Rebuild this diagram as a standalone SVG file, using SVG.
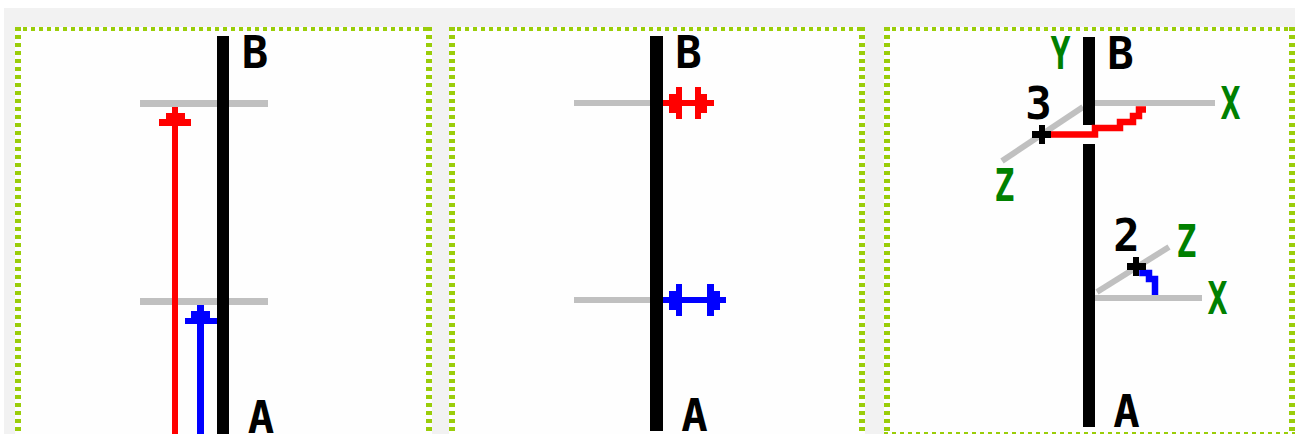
<svg xmlns="http://www.w3.org/2000/svg" width="1295" height="434" viewBox="0 0 1295 434">
<style>
.panel{fill:#fefefe}
.bh{stroke:#9acd0a;stroke-width:4;stroke-dasharray:4 4;fill:none}
.bv{stroke:#9acd0a;stroke-width:6;stroke-dasharray:4 4;fill:none}
.bar{fill:#000}
.axis{fill:#c0c0c0}
.red{fill:#ff0000}
.blue{fill:#0000ff}
.lbl{font-family:"DejaVu Sans Mono","Liberation Mono",monospace;font-weight:bold;font-size:44px;text-anchor:middle;fill:#000}
.g{fill:#008000}
.dline{fill:none;stroke:#c0c0c0;stroke-width:6}
</style>
<rect x="0" y="0" width="1295" height="434" fill="#ffffff"/>
<rect x="4" y="8" width="1291" height="426" fill="#f2f2f2"/>
<g id="panel1">
<rect class="panel" x="15" y="27" width="417" height="410"/>
<line class="bh" x1="15" y1="29" x2="432" y2="29"/>
<line class="bv" x1="18" y1="27" x2="18" y2="434"/>
<line class="bv" x1="429" y1="27" x2="429" y2="434"/>
<rect class="axis" x="140" y="100" width="128" height="7"/>
<rect class="axis" x="140" y="298" width="128" height="7"/>
<rect class="bar" x="217" y="36" width="12" height="400"/>
<text class="lbl" x="261" y="68" dx="-6">B</text>
<text class="lbl" x="261" y="433">A</text>
</g>
<g id="panel2">
<rect class="panel" x="449" y="27" width="416" height="410"/>
<line class="bh" x1="449" y1="29" x2="865" y2="29"/>
<line class="bv" x1="452" y1="27" x2="452" y2="434"/>
<line class="bv" x1="862" y1="27" x2="862" y2="434"/>
<rect class="axis" x="574" y="100" width="76" height="6"/>
<rect class="axis" x="574" y="297" width="76" height="6"/>
<rect class="bar" x="650" y="36" width="13" height="395"/>
<text class="lbl" x="688.5" y="68">B</text>
<text class="lbl" x="694.5" y="431">A</text>
</g>
<g id="panel3">
<rect class="panel" x="884" y="27" width="411" height="407"/>
<line class="bh" x1="884" y1="29" x2="1295" y2="29"/>
<line class="bh" x1="884" y1="434" x2="1295" y2="434"/>
<line class="bv" x1="887" y1="27" x2="887" y2="434"/>
<line class="bv" x1="1292" y1="27" x2="1292" y2="434"/>
<rect class="axis" x="1095" y="100" width="120" height="6"/>
<rect class="axis" x="1095" y="295" width="107" height="6"/>
<line class="dline" x1="1083" y1="107" x2="1002" y2="161"/>
<line class="dline" x1="1097" y1="292" x2="1169" y2="247"/>
<rect class="bar" x="1083" y="37" width="12" height="88"/>
<rect class="bar" x="1083" y="144" width="12" height="283"/>
<text class="lbl g" x="1060.5" y="69" textLength="20" lengthAdjust="spacingAndGlyphs">Y</text>
<text class="lbl" x="1120.5" y="69">B</text>
<text class="lbl" x="1038.5" y="119">3</text>
<text class="lbl g" x="1230.5" y="119" textLength="20" lengthAdjust="spacingAndGlyphs">X</text>
<text class="lbl g" x="1004.5" y="201" textLength="20" lengthAdjust="spacingAndGlyphs">Z</text>
<text class="lbl" x="1126.5" y="251">2</text>
<text class="lbl g" x="1186.5" y="257" textLength="20" lengthAdjust="spacingAndGlyphs">Z</text>
<text class="lbl g" x="1217.5" y="314" textLength="20" lengthAdjust="spacingAndGlyphs">X</text>
<text class="lbl" x="1126.5" y="427">A</text>
</g>
<g id="connectors">
<g id="p1-red">
<rect class="red" x="172" y="120" width="6" height="320"/>
<polygon class="red" points="172,107 178,107 178,113 185,113 185,119 191,119 191,126 159,126 159,119 166,119 166,113 172,113"/>
</g>
<g id="p1-blue">
<rect class="blue" x="197" y="318" width="7" height="120"/>
<polygon class="blue" points="197,305 204,305 204,311 210,311 210,318 217,318 217,324 185,324 185,318 191,318 191,311 197,311"/>
</g>
<g id="p2-red">
<rect class="red" x="663" y="100" width="51" height="6"/>
<rect class="red" x="669" y="94" width="7" height="19"/>
<rect class="red" x="676" y="87" width="6" height="32"/>
<rect class="red" x="695" y="87" width="6" height="32"/>
<rect class="red" x="701" y="94" width="6" height="19"/>
</g>
<g id="p2-blue">
<rect class="blue" x="663" y="297" width="63" height="6"/>
<rect class="blue" x="669" y="291" width="7" height="19"/>
<rect class="blue" x="676" y="284" width="6" height="32"/>
<rect class="blue" x="707" y="284" width="7" height="32"/>
<rect class="blue" x="714" y="291" width="6" height="19"/>
</g>
<g id="p3-red">
<polyline points="1051,134.5 1095,134.5 1095,128 1120,128 1120,122 1133,122 1133,116 1139,116 1139,109.5 1146,109.5" fill="none" stroke="#ff0000" stroke-width="6.5"/>
</g>
<g id="p3-blue">
<polyline points="1142.5,270 1142.5,273 1149,273 1149,279 1155,279 1155,295" fill="none" stroke="#0000ff" stroke-width="6.5"/>
</g>
<g id="p3-points">
<rect class="bar" x="1039" y="125" width="6" height="19"/>
<rect class="bar" x="1032" y="131" width="19" height="7"/>
<rect class="bar" x="1133" y="257" width="6" height="19"/>
<rect class="bar" x="1127" y="263" width="19" height="7"/>
</g>
</g>
</svg>
